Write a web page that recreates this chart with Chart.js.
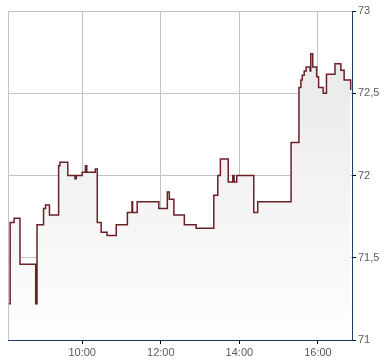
<!DOCTYPE html>
<html>
<head>
<meta charset="utf-8">
<script src="https://cdn.jsdelivr.net/npm/chart.js@4.4.1/dist/chart.umd.min.js"></script>
<style>
    body { margin: 0; background: #fff; }
</style>
</head>
<body>
<canvas id="kursChart" width="390" height="364"></canvas>
<script>
// Uhrzeit der Kursänderung und Kurs
var zeiten = ['08:08', '08:10', '08:16', '08:25', '08:49', '08:51', '09:01', '09:04', '09:10', '09:24',
    '09:26', '09:38', '09:49', '09:51', '10:00', '10:05', '10:07', '10:20', '10:23', '10:29',
    '10:38', '10:52', '11:09', '11:16', '11:17', '11:24', '11:57', '12:10', '12:13', '12:20',
    '12:36', '12:54', '13:21', '13:27', '13:31', '13:43', '13:50', '13:52', '13:56', '14:22',
    '14:28', '15:19', '15:31', '15:34', '15:36', '15:39', '15:42', '15:48', '15:49', '15:52',
    '15:58', '16:01', '16:08', '16:13', '16:26', '16:35', '16:40', '16:50'];
var kurse = [71.22, 71.715, 71.74, 71.46, 71.22, 71.70, 71.80, 71.82, 71.76, 72.06,
    72.08, 72.00, 71.98, 72.00, 72.02, 72.06, 72.02, 72.04, 71.715, 71.655,
    71.635, 71.70, 71.775, 71.84, 71.775, 71.84, 71.80, 71.90, 71.855, 71.76,
    71.70, 71.68, 71.88, 72.00, 72.10, 71.96, 72.00, 71.96, 72.00, 71.775,
    71.84, 72.20, 72.535, 72.58, 72.61, 72.635, 72.66, 72.635, 72.74, 72.66,
    72.60, 72.535, 72.50, 72.615, 72.68, 72.64, 72.58, 72.52];
var xTicks = ['10:00', '12:00', '14:00', '16:00'];
var yTicks = [71, 71.5, 72, 72.5, 73];
var xStart = '08:06.7';
var xEnde = '16:52';

function inMinuten(s) {
    var teile = s.split(':');
    return parseInt(teile[0], 10) * 60 + parseFloat(teile[1]);
}

function baueChart() {
    var punkte = zeiten.map((z, i) => ({ x: inMinuten(z), y: kurse[i] }));
    var minX = inMinuten(xStart);
    var maxX = inMinuten(xEnde);

    var ctx = document.getElementById('kursChart').getContext('2d');
    var verlauf = ctx.createLinearGradient(0, 11, 0, 340);
    verlauf.addColorStop(0, '#e6e6e6');
    verlauf.addColorStop(1, '#fefefe');

    new Chart(ctx, {
        type: 'line',
        data: {
            datasets: [{
                data: punkte,
                stepped: true,
                borderColor: '#6b2026',
                borderWidth: 1.5,
                backgroundColor: verlauf,
                fill: 'start',
                pointRadius: 0,
            }],
        },
        options: {
            responsive: false,
            animation: false,
            layout: { padding: { left: 8, top: 11, right: 0, bottom: 0 } },
            plugins: {
                legend: { display: false },
                tooltip: { enabled: false },
            },
            scales: {
                x: {
                    type: 'linear',
                    min: minX,
                    max: maxX,
                    afterBuildTicks: function (axis) {
                        axis.ticks = [{ value: minX }].concat(xTicks.map(t => ({ value: inMinuten(t) })));
                    },
                    afterFit: function (axis) { axis.height = 24; },
                    ticks: {
                        autoSkip: false,
                        maxRotation: 0,
                        padding: 2,
                        color: '#5a5a5a',
                        font: { family: 'Liberation Sans, Arial', size: 11 },
                        callback: function (v) {
                            if (v === minX) return '';
                            var h = Math.floor(v / 60);
                            var m = Math.round(v % 60);
                            return (h < 10 ? '0' : '') + h + ':' + (m < 10 ? '0' : '') + m;
                        },
                    },
                    grid: {
                        color: '#c4c4c4',
                        tickLength: 4,
                        tickColor: c => (c.tick && c.tick.value === minX) ? 'rgba(0,0,0,0)' : '#000',
                    },
                    border: { color: '#1d3a64', width: 1 },
                },
                y: {
                    position: 'right',
                    min: 71,
                    max: 73,
                    afterBuildTicks: function (axis) {
                        axis.ticks = yTicks.map(v => ({ value: v }));
                    },
                    afterFit: function (axis) { axis.width = 38; },
                    ticks: {
                        padding: 2,
                        color: '#5a5a5a',
                        font: { family: 'Liberation Sans, Arial', size: 11 },
                        callback: v => String(v).replace('.', ','),
                    },
                    grid: {
                        color: '#c4c4c4',
                        tickLength: 4,
                        tickColor: '#000',
                    },
                    border: { color: '#1d3a64', width: 1 },
                },
            },
        },
    });
}

baueChart();
</script>
</body>
</html>
